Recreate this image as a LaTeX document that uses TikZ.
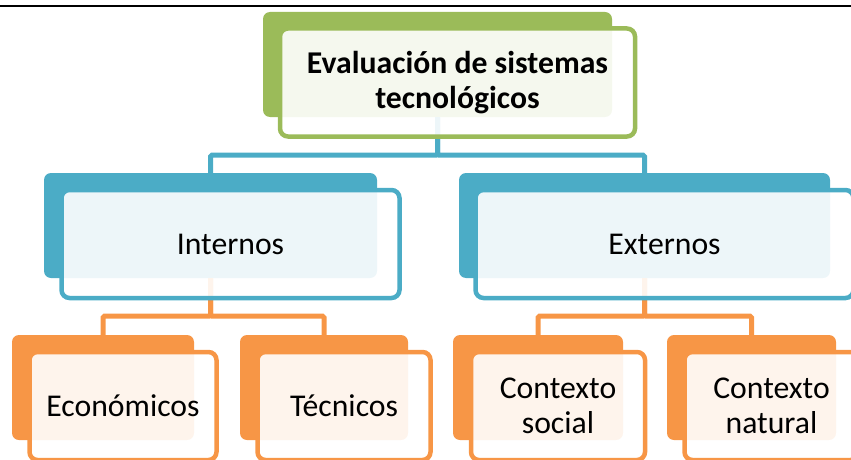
\documentclass[tikz,border=0pt]{standalone}
\usepackage{fontspec}
\setmainfont{Carlito}
\usetikzlibrary{calc}
\definecolor{smgreen}{HTML}{9BBB59}
\definecolor{smblue}{HTML}{4BACC6}
\definecolor{smorange}{HTML}{F79646}

\begin{document}
\begin{tikzpicture}[x=1pt, y=1pt,
    backbox/.style={fill=#1, draw=none, rounded corners=7pt, inner sep=0pt, minimum height=105pt},
    frontbox/.style={draw=#1, line width=4.5pt, fill=white, fill opacity=0.9, text opacity=1,
        rounded corners=8pt, inner sep=0pt, minimum height=108pt, align=center,
        font=\fontsize{31.7}{35}\selectfont},
    link/.style={draw=#1, line width=5pt, rounded corners=1.5pt},
    ]
    \useasboundingbox (0,0) rectangle (851,-460);
    \clip (0,0) rectangle (851,-460);
    \draw[line width=2.8pt] (0,-6) -- (851,-6);

    \node[backbox=smgreen, minimum width=349pt] (evalB) at (437.5,-64.5) {};
    \node[backbox=smblue, minimum width=333pt] (intB) at (210.5,-225.5) {};
    \node[backbox=smblue, minimum width=371pt] (extB) at (644.5,-225.5) {};
    \node[backbox=smorange, minimum width=182pt] (ecoB) at (103,-387.5) {};
    \node[backbox=smorange, minimum width=168pt] (tecB) at (324,-387.5) {};
    \node[backbox=smorange, minimum width=170pt] (socB) at (538,-387.5) {};
    \node[backbox=smorange, minimum width=169pt] (natB) at (751.5,-387.5) {};

    \draw[link=smblue] (evalB.south) -- ++(0,-38) -| (intB.north);
    \draw[link=smblue] (evalB.south) -- ++(0,-38) -| (extB.north);
    \draw[link=smorange] (intB.south) -- ++(0,-38) -| (ecoB.north);
    \draw[link=smorange] (intB.south) -- ++(0,-38) -| (tecB.north);
    \draw[link=smorange] (extB.south) -- ++(0,-38) -| (socB.north);
    \draw[link=smorange] (extB.south) -- ++(0,-38) -| (natB.north);

    \node[frontbox=smgreen, minimum width=355pt, font=\fontsize{31.7}{35}\selectfont\bfseries] (eval) at ($(evalB)+(20,-18)$) {Evaluación de sistemas\\tecnológicos};
    \node[frontbox=smblue, minimum width=338pt] (int) at ($(intB)+(20,-18.5)$) {Internos};
    \node[frontbox=smblue, minimum width=378pt] (ext) at ($(extB)+(20,-18.5)$) {Externos};
    \node[frontbox=smorange, minimum width=187pt] (eco) at ($(ecoB)+(20,-18.5)$) {Económicos};
    \node[frontbox=smorange, minimum width=173pt] (tec) at ($(tecB)+(20,-18.5)$) {Técnicos};
    \node[frontbox=smorange, minimum width=174pt] (soc) at ($(socB)+(20,-18.5)$) {Contexto\\social};
    \node[frontbox=smorange, minimum width=174pt] (nat) at ($(natB)+(20,-18.5)$) {Contexto\\natural};
\end{tikzpicture}
\end{document}
